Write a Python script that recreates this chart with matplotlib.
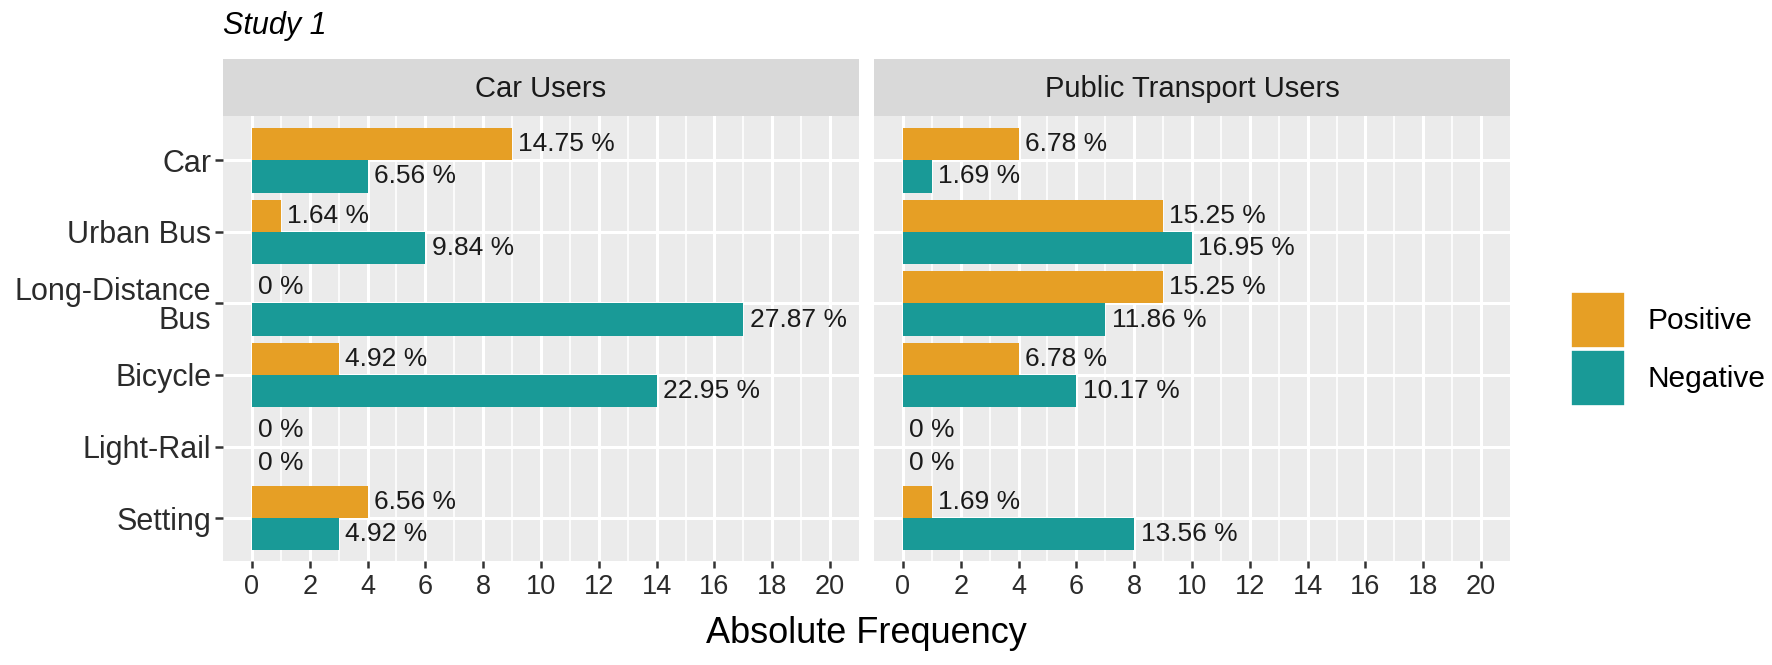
import matplotlib
matplotlib.use("Agg")
import matplotlib.pyplot as plt
import numpy as np

plt.rcParams['font.family'] = ['Liberation Sans', 'DejaVu Sans']

categories = ["Car", "Urban Bus", "Long-Distance\nBus", "Bicycle", "Light-Rail", "Setting"]
panels = ["Car Users", "Public Transport Users"]
car_pos = [9, 1, 0, 3, 0, 4]
car_neg = [4, 6, 17, 14, 0, 3]
car_pos_lab = ["14.75 %", "1.64 %", "0 %", "4.92 %", "0 %", "6.56 %"]
car_neg_lab = ["6.56 %", "9.84 %", "27.87 %", "22.95 %", "0 %", "4.92 %"]
pt_pos = [4, 9, 9, 4, 0, 1]
pt_neg = [1, 10, 7, 6, 0, 8]
pt_pos_lab = ["6.78 %", "15.25 %", "15.25 %", "6.78 %", "0 %", "1.69 %"]
pt_neg_lab = ["1.69 %", "16.95 %", "11.86 %", "10.17 %", "0 %", "13.56 %"]
xticks = list(range(0, 21, 2))
series = ["Positive", "Negative"]

c_pos = "#E69F25"
c_neg = "#199A97"
panel_bg = "#EBEBEB"
strip_bg = "#D9D9D9"
txt = "#1A1A1A"
axtxt = "#2B2B2B"

W, H = 1772, 665
fig = plt.figure(figsize=(W / 100, H / 100), dpi=100)

def fx(px):
    return px / W

def fy(py):
    return 1 - py / H

ptop, pbot = 116, 561
stop = 59
lefts = [(223, 859), (874, 1510)]
data = [(car_pos, car_neg, car_pos_lab, car_neg_lab), (pt_pos, pt_neg, pt_pos_lab, pt_neg_lab)]

y = np.arange(len(categories))
bw = 0.45
ax0 = None
for k, ((l, r), (pv, nv, pl, nl)) in enumerate(zip(lefts, data)):
    ax = fig.add_axes([fx(l), fy(pbot), fx(r - l), (pbot - ptop) / H])
    ax.set_facecolor(panel_bg)
    ax.set_xlim(-1, 21)
    ax.set_ylim(len(categories) - 0.4, -0.62)
    ax.set_xticks(xticks)
    ax.set_xticks([v for v in range(1, 21, 2)], minor=True)
    ax.set_yticks(y)
    ax.grid(which="major", color="white", linewidth=2.2)
    ax.grid(which="minor", axis="x", color="white", linewidth=1.2)
    ax.set_axisbelow(True)
    for s in ax.spines.values():
        s.set_visible(False)
    ax.barh(y - bw / 2, pv, height=bw, color=c_pos, label=series[0])
    ax.barh(y + bw / 2, nv, height=bw, color=c_neg, label=series[1])
    for i in range(len(categories)):
        ax.text(pv[i] + 0.22, y[i] - bw / 2, pl[i], ha="left", va="center", fontsize=19, color=txt)
        ax.text(nv[i] + 0.22, y[i] + bw / 2, nl[i], ha="left", va="center", fontsize=19, color=txt)
    ax.tick_params(axis="x", which="major", length=5, width=1.8, color="#333333",
                   labelsize=19.5, labelcolor=axtxt, pad=4)
    ax.tick_params(axis="x", which="minor", length=0)
    if k == 0:
        ax.set_yticklabels(categories)
        ax.tick_params(axis="y", length=5.5, width=1.8, color="#333333",
                       labelsize=22, labelcolor=axtxt, pad=3)
        for t in ax.get_yticklabels():
            t.set_horizontalalignment("right")
            t.set_multialignment("right")
            t.set_linespacing(0.95)
        ax0 = ax
    else:
        ax.tick_params(axis="y", length=0, labelleft=False)
    # facet strip
    sax = fig.add_axes([fx(l), fy(ptop), fx(r - l), (ptop - stop) / H])
    sax.set_facecolor(strip_bg)
    sax.set_xticks([]); sax.set_yticks([])
    for s in sax.spines.values():
        s.set_visible(False)
    sax.text(0.5, 0.47, panels[k], ha="center", va="center", fontsize=21, color=txt,
             transform=sax.transAxes)

fig.text(fx(223), fy(34), "Study 1", fontsize=22, style="italic", ha="left", va="baseline", color="black")
fig.text(fx((223 + 1510) / 2), fy(643), "Absolute Frequency", fontsize=26, ha="center", va="baseline", color="black")

handles, labels = ax0.get_legend_handles_labels()
fs_leg = 21.5
key_pt = 54 * 0.72
leg = fig.legend(handles, labels, loc="center left", bbox_to_anchor=(fx(1571), fy(349)),
                 frameon=False, fontsize=fs_leg, handlelength=key_pt / fs_leg,
                 handleheight=1.37 * key_pt / fs_leg,
                 handletextpad=0.75, labelspacing=0.1, borderaxespad=0, borderpad=0)
for h in leg.legend_handles:
    h.set_edgecolor("white")
    h.set_linewidth(1.2)

fig.savefig("out.png", dpi=100)
